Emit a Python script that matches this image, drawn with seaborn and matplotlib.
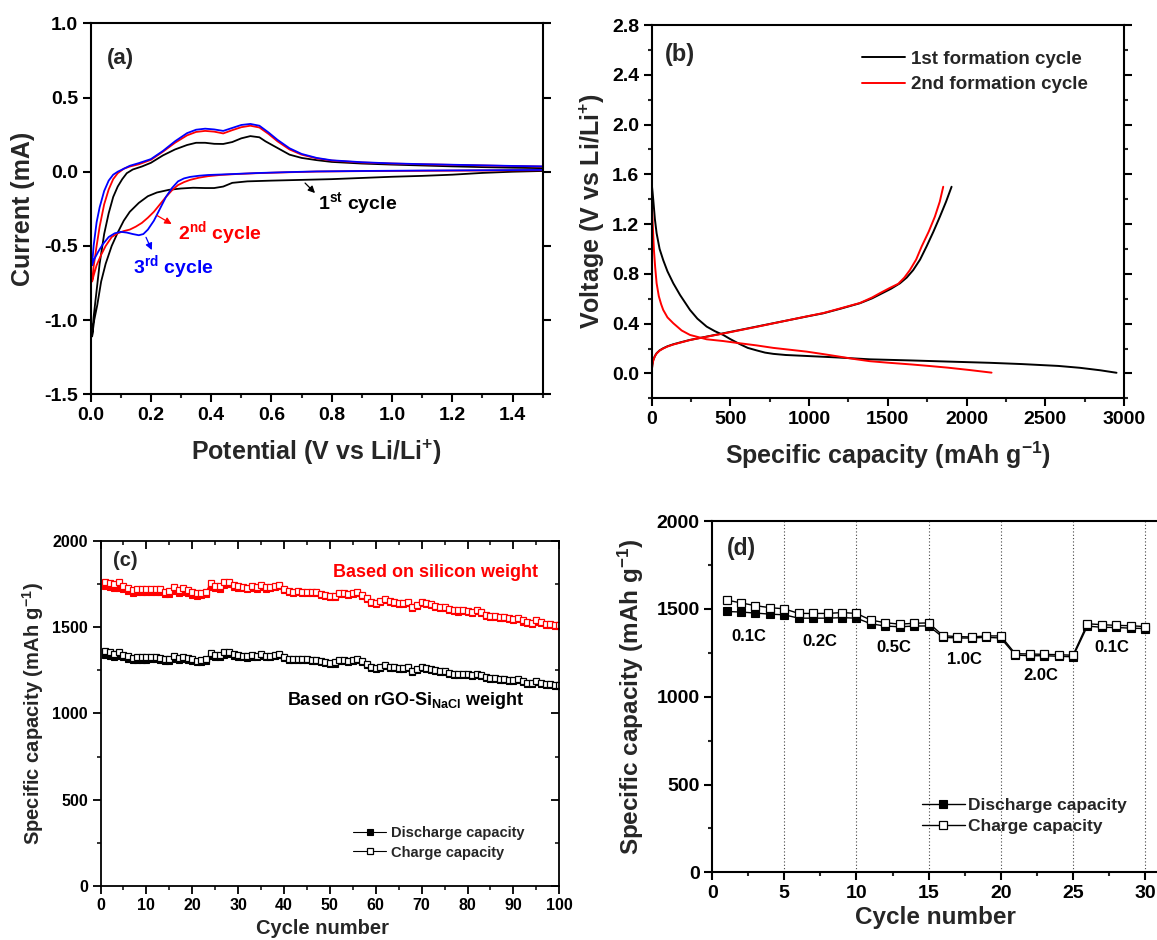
import matplotlib
matplotlib.use("Agg")
import matplotlib.pyplot as plt
import seaborn as sns
from matplotlib.ticker import MultipleLocator, FormatStrFormatter

# ---------------- Panel (a): cyclic voltammetry ----------------
cv1_cath_v = [1.50, 1.40, 1.30, 1.20, 1.10, 1.00, 0.90, 0.80, 0.70, 0.60, 0.52, 0.47, 0.44, 0.41, 0.38, 0.34, 0.30,
              0.26, 0.22, 0.19, 0.16, 0.13, 0.11, 0.09, 0.07, 0.05, 0.035, 0.022, 0.012, 0.005]
cv1_cath_i = [0.005, 0.0, -0.008, -0.02, -0.028, -0.034, -0.042, -0.05, -0.055, -0.06, -0.065, -0.075, -0.1, -0.11,
              -0.11, -0.108, -0.113, -0.122, -0.14, -0.165, -0.21, -0.27, -0.33, -0.41, -0.5, -0.62, -0.74, -0.9,
              -1.0, -1.11]
cv1_anod_v = [0.005, 0.01, 0.02, 0.03, 0.045, 0.06, 0.075, 0.09, 0.105, 0.12, 0.14, 0.17, 0.20, 0.24, 0.28, 0.32,
              0.35, 0.38, 0.41, 0.44, 0.47, 0.50, 0.53, 0.56, 0.58, 0.62, 0.66, 0.70, 0.75, 0.80, 0.90, 1.00, 1.10,
              1.20, 1.30, 1.40, 1.50]
cv1_anod_i = [-1.11, -0.98, -0.8, -0.62, -0.42, -0.28, -0.17, -0.1, -0.05, -0.01, 0.015, 0.035, 0.06, 0.11, 0.15,
              0.18, 0.195, 0.195, 0.188, 0.187, 0.2, 0.225, 0.24, 0.232, 0.205, 0.16, 0.115, 0.093, 0.078, 0.066,
              0.055, 0.048, 0.042, 0.036, 0.031, 0.027, 0.024]

cv2_cath_v = [1.50, 1.30, 1.10, 0.90, 0.75, 0.65, 0.55, 0.48, 0.43, 0.39, 0.36, 0.33, 0.31, 0.29, 0.27, 0.25, 0.23,
              0.21, 0.19, 0.17, 0.15, 0.13, 0.11, 0.09, 0.07, 0.05, 0.035, 0.02, 0.01, 0.005]
cv2_cath_i = [0.01, 0.008, 0.006, 0.004, 0.001, -0.004, -0.01, -0.016, -0.022, -0.03, -0.04, -0.055, -0.07, -0.09,
              -0.125, -0.17, -0.22, -0.27, -0.31, -0.345, -0.37, -0.39, -0.4, -0.415, -0.44, -0.5, -0.56, -0.63,
              -0.7, -0.74]
cv2_anod_v = [0.005, 0.01, 0.02, 0.03, 0.045, 0.06, 0.075, 0.09, 0.11, 0.13, 0.16, 0.20, 0.24, 0.28, 0.32, 0.35,
              0.38, 0.41, 0.44, 0.47, 0.50, 0.53, 0.56, 0.59, 0.62, 0.66, 0.70, 0.75, 0.80, 0.90, 1.00, 1.10, 1.20,
              1.30, 1.40, 1.50]
cv2_anod_i = [-0.74, -0.64, -0.5, -0.37, -0.22, -0.12, -0.05, -0.01, 0.02, 0.035, 0.05, 0.08, 0.135, 0.195, 0.245,
              0.268, 0.275, 0.27, 0.258, 0.28, 0.3, 0.31, 0.298, 0.255, 0.205, 0.15, 0.115, 0.09, 0.075, 0.062,
              0.055, 0.05, 0.046, 0.042, 0.038, 0.035]

cv3_cath_v = [1.50, 1.30, 1.10, 0.90, 0.75, 0.65, 0.55, 0.48, 0.43, 0.39, 0.36, 0.33, 0.31, 0.29, 0.27, 0.25, 0.23,
              0.21, 0.19, 0.175, 0.16, 0.14, 0.12, 0.10, 0.08, 0.06, 0.04, 0.025, 0.012, 0.005]
cv3_cath_i = [0.012, 0.01, 0.008, 0.005, 0.002, -0.003, -0.009, -0.015, -0.019, -0.022, -0.027, -0.035, -0.045,
              -0.065, -0.11, -0.17, -0.25, -0.33, -0.39, -0.42, -0.428, -0.42, -0.41, -0.405, -0.415, -0.44, -0.49,
              -0.54, -0.59, -0.63]
cv3_anod_v = [0.005, 0.01, 0.02, 0.03, 0.045, 0.06, 0.075, 0.09, 0.11, 0.13, 0.16, 0.20, 0.24, 0.28, 0.32, 0.35,
              0.38, 0.41, 0.44, 0.47, 0.50, 0.53, 0.56, 0.59, 0.62, 0.66, 0.70, 0.75, 0.80, 0.90, 1.00, 1.10, 1.20,
              1.30, 1.40, 1.50]
cv3_anod_i = [-0.63, -0.5, -0.34, -0.24, -0.13, -0.06, -0.02, 0.0, 0.02, 0.04, 0.058, 0.085, 0.14, 0.205, 0.26,
              0.283, 0.29, 0.285, 0.275, 0.295, 0.315, 0.322, 0.31, 0.265, 0.215, 0.158, 0.12, 0.093, 0.077, 0.064,
              0.056, 0.051, 0.047, 0.043, 0.039, 0.036]

# ---------------- Panel (b): formation cycles ----------------
b_d1_cap = [0, 5, 10, 20, 31, 50, 73, 100, 137, 180, 243, 290, 349, 400, 454, 500, 560, 610, 666, 720, 772, 850,
            984, 1181, 1386, 1650, 1882, 2150, 2350, 2583, 2720, 2850, 2953]
b_d1_v = [1.52, 1.46, 1.39, 1.24, 1.126, 1.0, 0.91, 0.82, 0.724, 0.63, 0.51, 0.44, 0.376, 0.34, 0.309, 0.275,
          0.235, 0.205, 0.185, 0.167, 0.157, 0.148, 0.14, 0.128, 0.113, 0.104, 0.095, 0.085, 0.075, 0.06, 0.045,
          0.025, 0.005]
b_c1_cap = [0, 4, 10, 20, 31, 50, 73, 100, 137, 190, 243, 350, 454, 560, 666, 772, 878, 984, 1090, 1200, 1323, 1400,
            1450, 1520, 1577, 1620, 1661, 1705, 1746, 1790, 1831, 1870, 1905]
b_c1_v = [0.02, 0.07, 0.108, 0.14, 0.162, 0.185, 0.202, 0.218, 0.234, 0.252, 0.269, 0.296, 0.322, 0.349, 0.376,
          0.403, 0.43, 0.457, 0.483, 0.52, 0.564, 0.603, 0.635, 0.68, 0.724, 0.77, 0.83, 0.915, 1.02, 1.14, 1.26,
          1.38, 1.50]
b_d2_cap = [0, 3, 8, 14, 22, 31, 45, 60, 73, 100, 137, 190, 243, 349, 454, 560, 666, 772, 878, 984, 1090, 1181, 1290,
            1386, 1500, 1648, 1760, 1882, 2020, 2159]
b_d2_v = [1.41, 1.3, 1.15, 0.99, 0.85, 0.724, 0.62, 0.555, 0.51, 0.45, 0.403, 0.345, 0.309, 0.274, 0.26, 0.242,
          0.225, 0.205, 0.19, 0.175, 0.155, 0.137, 0.115, 0.098, 0.086, 0.072, 0.06, 0.046, 0.027, 0.006]
b_c2_cap = [0, 4, 10, 20, 31, 50, 73, 100, 137, 190, 243, 350, 454, 560, 666, 772, 878, 984, 1090, 1200, 1323, 1400,
            1450, 1510, 1566, 1605, 1640, 1680, 1715, 1760, 1799, 1830, 1852]
b_c2_v = [0.02, 0.068, 0.105, 0.138, 0.16, 0.183, 0.2, 0.216, 0.232, 0.25, 0.268, 0.295, 0.32, 0.347, 0.374, 0.402,
          0.43, 0.458, 0.485, 0.523, 0.566, 0.61, 0.645, 0.685, 0.72, 0.77, 0.83, 0.915, 1.02, 1.14, 1.26, 1.38,
          1.50]

# ---------------- Panel (c): 100-cycle stability ----------------
c_cycles = list(range(1, 101))
c_si_charge = [1766, 1760, 1750, 1764, 1742, 1730, 1718, 1722, 1722, 1721, 1722, 1724, 1720, 1706, 1712, 1734, 1716,
               1726, 1716, 1706, 1698, 1700, 1708, 1758, 1742, 1740, 1762, 1766, 1748, 1740, 1736, 1730, 1738, 1734,
               1746, 1732, 1736, 1740, 1748, 1724, 1712, 1708, 1710, 1708, 1706, 1704, 1704, 1696, 1688, 1680, 1684,
               1698, 1700, 1692, 1702, 1706, 1690, 1672, 1650, 1644, 1652, 1662, 1652, 1646, 1640, 1640, 1646, 1620,
               1632, 1646, 1640, 1636, 1626, 1620, 1620, 1604, 1600, 1598, 1600, 1594, 1592, 1600, 1590, 1574, 1566,
               1564, 1562, 1560, 1552, 1548, 1556, 1540, 1530, 1528, 1540, 1530, 1522, 1518, 1516, 1514]
c_si_discharge = [1738, 1734, 1728, 1730, 1722, 1712, 1702, 1704, 1704, 1704, 1706, 1708, 1704, 1692, 1696, 1712,
                  1700, 1706, 1700, 1690, 1684, 1686, 1692, 1736, 1726, 1724, 1744, 1750, 1734, 1728, 1726, 1720,
                  1728, 1724, 1736, 1724, 1728, 1732, 1740, 1716, 1706, 1702, 1704, 1702, 1700, 1698, 1698, 1690,
                  1682, 1674, 1678, 1692, 1694, 1686, 1696, 1700, 1684, 1666, 1644, 1638, 1646, 1656, 1646, 1640,
                  1634, 1634, 1640, 1614, 1626, 1640, 1634, 1630, 1620, 1614, 1614, 1598, 1594, 1592, 1594, 1588,
                  1586, 1594, 1584, 1568, 1560, 1558, 1556, 1554, 1546, 1542, 1550, 1534, 1524, 1522, 1534, 1524,
                  1516, 1512, 1510, 1508]
c_comp_charge = [1360, 1356, 1348, 1358, 1342, 1334, 1324, 1326, 1326, 1325, 1326, 1328, 1324, 1314, 1318, 1334,
                 1320, 1328, 1320, 1314, 1306, 1308, 1314, 1352, 1340, 1338, 1356, 1358, 1346, 1340, 1336, 1332,
                 1338, 1336, 1344, 1334, 1336, 1340, 1346, 1328, 1318, 1314, 1316, 1314, 1314, 1312, 1312, 1306,
                 1300, 1294, 1296, 1308, 1310, 1304, 1310, 1314, 1302, 1288, 1270, 1266, 1272, 1280, 1272, 1268,
                 1262, 1262, 1268, 1248, 1256, 1268, 1262, 1260, 1252, 1248, 1248, 1236, 1232, 1230, 1232, 1228,
                 1226, 1232, 1224, 1212, 1206, 1204, 1202, 1200, 1196, 1192, 1198, 1186, 1178, 1176, 1186, 1178,
                 1172, 1170, 1168, 1166]
c_comp_discharge = [1338, 1334, 1330, 1334, 1326, 1318, 1310, 1312, 1312, 1312, 1314, 1314, 1312, 1302, 1306, 1318,
                    1308, 1314, 1308, 1302, 1296, 1298, 1302, 1334, 1328, 1326, 1342, 1346, 1334, 1330, 1328, 1324,
                    1330, 1328, 1336, 1328, 1330, 1334, 1340, 1322, 1312, 1308, 1310, 1308, 1308, 1306, 1306, 1300,
                    1294, 1288, 1290, 1302, 1304, 1298, 1304, 1308, 1296, 1282, 1264, 1260, 1266, 1274, 1266, 1262,
                    1256, 1256, 1262, 1242, 1250, 1262, 1256, 1254, 1246, 1242, 1242, 1230, 1226, 1224, 1226, 1222,
                    1220, 1226, 1218, 1206, 1200, 1198, 1196, 1194, 1190, 1186, 1192, 1180, 1172, 1170, 1180, 1172,
                    1166, 1164, 1162, 1160]

# ---------------- Panel (d): rate capability ----------------
d_cycles = list(range(1, 31))
d_discharge = [1485, 1482, 1476, 1470, 1466, 1447, 1447, 1447, 1450, 1447, 1415, 1402, 1398, 1402, 1403, 1338, 1334,
               1334, 1338, 1334, 1237, 1233, 1233, 1230, 1227, 1402, 1395, 1394, 1390, 1388]
d_charge = [1550, 1534, 1518, 1507, 1500, 1474, 1474, 1474, 1479, 1474, 1436, 1421, 1413, 1418, 1420, 1347, 1342,
            1340, 1346, 1346, 1245, 1243, 1241, 1239, 1236, 1415, 1410, 1406, 1404, 1399]
d_rate_labels = ["0.1C", "0.2C", "0.5C", "1.0C", "2.0C", "0.1C"]
d_rate_x = [2.56, 7.44, 12.57, 17.51, 22.8, 27.7]
d_rate_y = [1345, 1313, 1281, 1212, 1123, 1281]
d_boundaries = [5, 10, 15, 20, 25, 30]

# ---------------- style ----------------
sns.set_theme(style="ticks")
plt.rcParams['font.family'] = ['Liberation Sans', 'DejaVu Sans']
plt.rcParams['font.weight'] = 'bold'
plt.rcParams['axes.labelweight'] = 'bold'
plt.rcParams['axes.unicode_minus'] = False
plt.rcParams['mathtext.fontset'] = 'custom'
plt.rcParams['mathtext.rm'] = 'Liberation Sans:bold'
plt.rcParams['mathtext.bf'] = 'Liberation Sans:bold'
plt.rcParams['mathtext.it'] = 'Liberation Sans:bold:italic'

fig = plt.figure(figsize=(11.57, 9.40), dpi=100)
fig.patch.set_facecolor('white')

ax_a = fig.add_axes([0.0783, 0.5805, 0.3908, 0.3947])
ax_b = fig.add_axes([0.5633, 0.5763, 0.4081, 0.3971])
ax_c = fig.add_axes([0.0869, 0.0578, 0.3965, 0.3664])
ax_d = fig.add_axes([0.6155, 0.0720, 0.3867, 0.3737])


def style_axes(ax, lw, fs, right_out=False):
    for s in ax.spines.values():
        s.set_linewidth(lw)
        s.set_color('black')
        s.set_visible(True)
    ax.set_facecolor('white')
    ax.grid(False)
    ax.tick_params(axis='both', which='major', direction='out', length=6, width=lw, labelsize=fs,
                   colors='black', pad=3)
    ax.tick_params(axis='both', which='minor', direction='out', length=3, width=lw)
    if right_out:
        ax.tick_params(axis='y', which='both', right=True, labelright=False)
    for lab in ax.get_xticklabels() + ax.get_yticklabels():
        lab.set_fontweight('bold')


# ---- (a) ----
for cv, cathi, anv, ani, col in [
    (cv1_cath_v, cv1_cath_i, cv1_anod_v, cv1_anod_i, 'black'),
    (cv2_cath_v, cv2_cath_i, cv2_anod_v, cv2_anod_i, '#FF0000'),
    (cv3_cath_v, cv3_cath_i, cv3_anod_v, cv3_anod_i, '#0000FF'),
]:
    sns.lineplot(x=cv + anv, y=cathi + ani, sort=False, estimator=None, color=col, lw=1.3, ax=ax_a)
ax_a.set_xlim(0, 1.5)
ax_a.set_ylim(-1.5, 1.0)
ax_a.xaxis.set_major_locator(MultipleLocator(0.2))
ax_a.xaxis.set_minor_locator(MultipleLocator(0.1))
ax_a.yaxis.set_major_locator(MultipleLocator(0.5))
ax_a.xaxis.set_major_formatter(FormatStrFormatter('%.1f'))
ax_a.yaxis.set_major_formatter(FormatStrFormatter('%.1f'))
style_axes(ax_a, 1.5, 14, right_out=True)
ax_a.set_xlabel(r"Potential (V vs Li/Li$^{\mathbf{+}}$)", fontsize=18, fontweight='bold')
ax_a.set_ylabel("Current (mA)", fontsize=18, fontweight='bold')
ax_a.xaxis.set_label_coords(0.4986, -0.118)
ax_a.yaxis.set_label_coords(-0.123, 0.5)
ax_a.text(0.035, 0.906, "(a)", transform=ax_a.transAxes, fontsize=16, fontweight='bold', va='center')
ax_a.annotate("", xy=(0.751, -0.157), xytext=(0.705, -0.063),
              arrowprops=dict(arrowstyle='-|>', color='black', lw=0.9, mutation_scale=10))
ax_a.text(0.754, -0.21, r"1$^{\mathbf{st}}$ cycle", color='black', fontsize=14, fontweight='bold',
          ha='left', va='center')
ax_a.annotate("", xy=(0.277, -0.362), xytext=(0.212, -0.285),
              arrowprops=dict(arrowstyle='-|>', color='#FF0000', lw=0.9, mutation_scale=10))
ax_a.text(0.29, -0.415, r"2$^{\mathbf{nd}}$ cycle", color='#FF0000', fontsize=14, fontweight='bold',
          ha='left', va='center')
ax_a.annotate("", xy=(0.207, -0.545), xytext=(0.18, -0.425),
              arrowprops=dict(arrowstyle='-|>', color='#0000FF', lw=0.9, mutation_scale=10))
ax_a.text(0.14, -0.64, r"3$^{\mathbf{rd}}$ cycle", color='#0000FF', fontsize=14, fontweight='bold',
          ha='left', va='center')

# ---- (b) ----
sns.lineplot(x=b_d1_cap, y=b_d1_v, sort=False, estimator=None, color='black', lw=1.4, ax=ax_b)
sns.lineplot(x=b_c1_cap, y=b_c1_v, sort=False, estimator=None, color='black', lw=1.4, ax=ax_b)
sns.lineplot(x=b_d2_cap, y=b_d2_v, sort=False, estimator=None, color='#FF0000', lw=1.4, ax=ax_b)
sns.lineplot(x=b_c2_cap, y=b_c2_v, sort=False, estimator=None, color='#FF0000', lw=1.4, ax=ax_b)
ax_b.set_xlim(0, 3000)
ax_b.set_ylim(-0.2, 2.8)
ax_b.xaxis.set_major_locator(MultipleLocator(500))
ax_b.xaxis.set_minor_locator(MultipleLocator(250))
ax_b.yaxis.set_major_locator(MultipleLocator(0.4))
ax_b.yaxis.set_minor_locator(MultipleLocator(0.2))
ax_b.yaxis.set_major_formatter(FormatStrFormatter('%.1f'))
style_axes(ax_b, 1.5, 14, right_out=True)
ax_b.set_xlabel(r"Specific capacity (mAh g$^{\mathbf{-1}}$)", fontsize=18, fontweight='bold')
ax_b.set_ylabel(r"Voltage (V vs Li/Li$^{\mathbf{+}}$)", fontsize=18, fontweight='bold')
ax_b.xaxis.set_label_coords(0.5, -0.112)
ax_b.yaxis.set_label_coords(-0.094, 0.5)
ax_b.text(0.028, 0.92, "(b)", transform=ax_b.transAxes, fontsize=17, fontweight='bold', va='center')
lb = ax_b.get_lines()
ax_b.legend(handles=[lb[0], lb[2]], labels=['1st formation cycle', '2nd formation cycle'], loc='upper left',
            bbox_to_anchor=(0.445, 0.932), frameon=False, handlelength=2.3,
            handletextpad=0.3, labelspacing=0.45, borderpad=0, borderaxespad=0,
            prop={'weight': 'bold', 'size': 13.5})

# ---- (c) ----
mk = 4.8
sns.lineplot(x=c_cycles, y=c_comp_discharge, estimator=None, color='black', lw=0.8, marker='s', markersize=mk,
             markerfacecolor='black', markeredgecolor='black', markeredgewidth=0.8, ax=ax_c)
sns.lineplot(x=c_cycles, y=c_comp_charge, estimator=None, color='black', lw=0.8, marker='s', markersize=mk,
             markerfacecolor='white', markeredgecolor='black', markeredgewidth=0.9, ax=ax_c)
sns.lineplot(x=c_cycles, y=c_si_discharge, estimator=None, color='#FF0000', lw=0.8, marker='s', markersize=mk,
             markerfacecolor='#FF0000', markeredgecolor='#FF0000', markeredgewidth=0.8, ax=ax_c)
sns.lineplot(x=c_cycles, y=c_si_charge, estimator=None, color='#FF0000', lw=0.8, marker='s', markersize=mk,
             markerfacecolor='white', markeredgecolor='#FF0000', markeredgewidth=0.9, ax=ax_c)
ax_c.set_xlim(0, 100)
ax_c.set_ylim(0, 2000)
ax_c.xaxis.set_major_locator(MultipleLocator(10))
ax_c.xaxis.set_minor_locator(MultipleLocator(5))
ax_c.yaxis.set_major_locator(MultipleLocator(500))
ax_c.yaxis.set_minor_locator(MultipleLocator(250))
style_axes(ax_c, 1.3, 11.5)
ax_c.tick_params(axis='both', which='both', top=True, right=True, labeltop=False, labelright=False)
for t in ax_c.xaxis.get_major_ticks() + ax_c.xaxis.get_minor_ticks():
    t.tick2line.set_marker(3)
for t in ax_c.yaxis.get_major_ticks() + ax_c.yaxis.get_minor_ticks():
    t.tick2line.set_marker(0)
ax_c.set_xlabel("Cycle number", fontsize=14.5, fontweight='bold')
ax_c.set_ylabel(r"Specific capacity (mAh g$^{\mathbf{-1}}$)", fontsize=14.5, fontweight='bold')
ax_c.xaxis.set_label_coords(0.484, -0.096)
ax_c.yaxis.set_label_coords(-0.119, 0.5)
ax_c.text(0.027, 0.943, "(c)", transform=ax_c.transAxes, fontsize=14.5, fontweight='bold', va='center')
ax_c.text(50.7, 1818, "Based on silicon weight", color='#FF0000', fontsize=13, fontweight='bold',
          ha='left', va='center')
ax_c.text(40.6, 1073, r"Based on rGO-Si$_{\mathbf{NaCl}}$ weight", color='black', fontsize=13,
          fontweight='bold', ha='left', va='center')
lc = ax_c.get_lines()
ax_c.legend(handles=[lc[0], lc[1]], labels=['Discharge capacity', 'Charge capacity'], loc='upper left',
            bbox_to_anchor=(0.55, 0.174), frameon=False, handlelength=2.3, handletextpad=0.3,
            labelspacing=0.4, borderpad=0, borderaxespad=0, prop={'weight': 'bold', 'size': 10.5})

# ---- (d) ----
for xb in d_boundaries:
    ax_d.axvline(xb, color='#444444', lw=0.8, ls=(0, (1, 2)), zorder=0)
sns.lineplot(x=d_cycles, y=d_discharge, estimator=None, color='black', lw=1.0, marker='s', markersize=5.3,
             markerfacecolor='black', markeredgecolor='black', markeredgewidth=0.8, ax=ax_d)
sns.lineplot(x=d_cycles, y=d_charge, estimator=None, color='black', lw=1.0, marker='s', markersize=5.3,
             markerfacecolor='white', markeredgecolor='black', markeredgewidth=0.9, ax=ax_d)
ax_d.set_xlim(0, 31)
ax_d.set_ylim(0, 2000)
ax_d.xaxis.set_major_locator(MultipleLocator(5))
ax_d.xaxis.set_minor_locator(MultipleLocator(2.5))
ax_d.yaxis.set_major_locator(MultipleLocator(500))
ax_d.yaxis.set_minor_locator(MultipleLocator(250))
style_axes(ax_d, 1.5, 14)
ax_d.set_xlabel("Cycle number", fontsize=17.5, fontweight='bold')
ax_d.set_ylabel(r"Specific capacity (mAh g$^{\mathbf{-1}}$)", fontsize=17.5, fontweight='bold')
ax_d.xaxis.set_label_coords(0.498, -0.095)
ax_d.yaxis.set_label_coords(-0.148, 0.5)
ax_d.text(0.034, 0.923, "(d)", transform=ax_d.transAxes, fontsize=16.5, fontweight='bold', va='center')
for lab, xx, yy in zip(d_rate_labels, d_rate_x, d_rate_y):
    ax_d.text(xx, yy, lab, fontsize=12, fontweight='bold', ha='center', va='center', color='black')
ld = [l for l in ax_d.get_lines() if l.get_marker() == 's']
ax_d.legend(handles=ld[:2], labels=['Discharge capacity', 'Charge capacity'], loc='upper left',
            bbox_to_anchor=(0.469, 0.212), frameon=False, handlelength=2.45, handletextpad=0.2,
            labelspacing=0.35, borderpad=0, borderaxespad=0, prop={'weight': 'bold', 'size': 12.5})

fig.savefig("out.png", dpi=100, facecolor='white')
